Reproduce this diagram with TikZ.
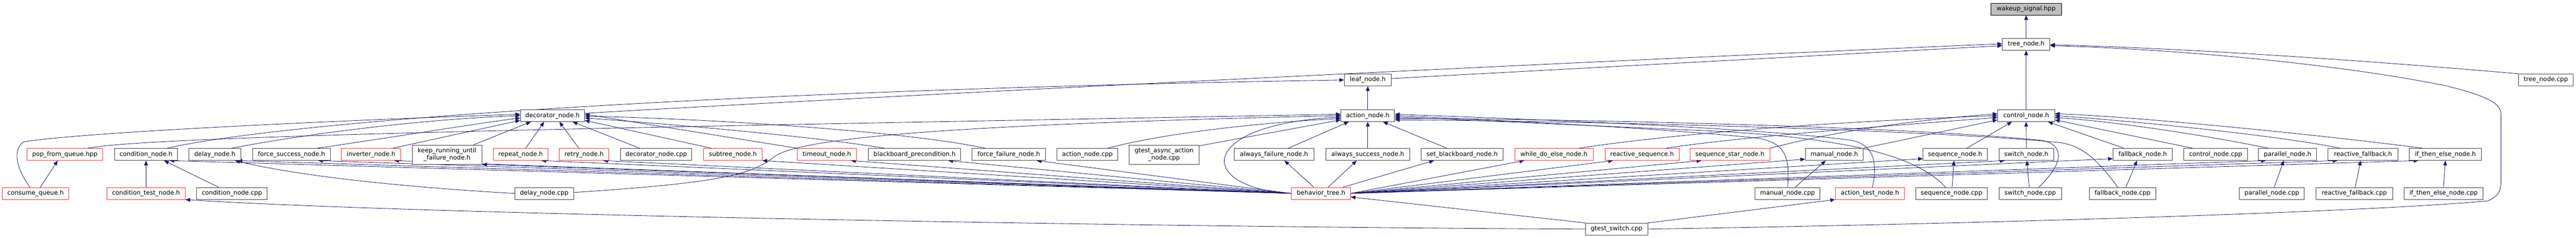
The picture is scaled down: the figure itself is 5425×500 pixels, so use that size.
\documentclass[tikz,border=0pt]{standalone}
\usepackage{fontspec}
\setmainfont{DejaVu Sans}
\usetikzlibrary{arrows.meta,backgrounds}
\definecolor{edgec}{HTML}{191970}
\definecolor{bordc}{HTML}{404040}
\definecolor{redc}{HTML}{FF3030}
\definecolor{rootfill}{HTML}{BFBFBF}
\tikzset{
  box/.style={draw=bordc, line width=1pt, fill=white, minimum height=25pt, inner sep=0pt, align=center, font=\fontsize{13}{14.5}\selectfont},
  redbox/.style={box, draw=redc},
  twoline/.style={minimum height=40pt},
  edge/.style={draw=edgec, line width=0.9pt, -{Triangle[length=10pt,width=8pt]}}
}
\newcommand{\mkbox}[6]{\node[#1, minimum width=#2pt] (#3) at (#4,#5) {#6};}
\begin{document}
\begin{tikzpicture}[x=1pt,y=-1pt]
\useasboundingbox (0,0) rectangle (5425,500);
% row 0-2
\node[box, draw=black, fill=rootfill, minimum width=148pt] (wakeup) at (4267,19) {wakeup\_signal.hpp};
\mkbox{box}{100}{tree}{4267}{93}{tree\_node.h}
\mkbox{box}{99}{leaf}{2880.5}{168}{leaf\_node.h}
\mkbox{box}{115}{treecpp}{5361.5}{168}{tree\_node.cpp}
\mkbox{box}{113}{action}{2880.5}{243}{action\_node.h}
\mkbox{box}{135}{decorator}{1163.5}{243}{decorator\_node.h}
\mkbox{box}{120}{control}{4267}{243}{control\_node.h}
% row 3
\mkbox{redbox}{159}{popq}{136.5}{324.5}{pop\_from\_queue.hpp}
\mkbox{box}{133}{condn}{307.5}{324.5}{condition\_node.h}
\mkbox{box}{109}{delayh}{452.5}{324.5}{delay\_node.h}
\mkbox{box}{164}{fsucc}{614}{324.5}{force\_success\_node.h}
\mkbox{redbox}{125}{inv}{781.5}{324.5}{inverter\_node.h}
\mkbox{box,twoline}{147}{keep}{941.5}{325}{keep\_running\_until\\\_failure\_node.h}
\mkbox{redbox}{115}{repeat}{1096.5}{324.5}{repeat\_node.h}
\mkbox{redbox}{104}{retry}{1230}{324.5}{retry\_node.h}
\mkbox{box}{150}{deccpp}{1382}{324.5}{decorator\_node.cpp}
\mkbox{redbox}{123}{subtree}{1543.5}{324.5}{subtree\_node.h}
\mkbox{redbox}{125}{timeout}{1741.5}{324.5}{timeout\_node.h}
\mkbox{box}{194}{bbprec}{1926}{324.5}{blackboard\_precondition.h}
\mkbox{box}{155}{ffail}{2124.5}{324.5}{force\_failure\_node.h}
\mkbox{box}{128}{actcpp}{2290}{324.5}{action\_node.cpp}
\mkbox{box,twoline}{147}{gasync}{2451.5}{325}{gtest\_async\_action\\\_node.cpp}
\mkbox{box}{168}{afail}{2683}{324.5}{always\_failure\_node.h}
\mkbox{box}{177}{asucc}{2880.5}{324.5}{always\_success\_node.h}
\mkbox{box}{172}{setbb}{3079}{324.5}{set\_blackboard\_node.h}
\mkbox{redbox}{165}{whiledo}{3272.5}{324.5}{while\_do\_else\_node.h}
\mkbox{redbox}{156}{reactseq}{3458}{324.5}{reactive\_sequence.h}
\mkbox{redbox}{168}{seqstar}{3643}{324.5}{sequence\_star\_node.h}
\mkbox{box}{122}{manualh}{3863}{324.5}{manual\_node.h}
\mkbox{box}{135}{seqh}{4117.5}{324.5}{sequence\_node.h}
\mkbox{box}{115}{switchh}{4267.5}{324.5}{switch\_node.h}
\mkbox{box}{125}{fallbackh}{4512.5}{324.5}{fallback\_node.h}
\mkbox{box}{134}{ctrlcpp}{4666}{324.5}{control\_node.cpp}
\mkbox{box}{123}{parh}{4817.5}{324.5}{parallel\_node.h}
\mkbox{box}{147}{reactfb}{4976.5}{324.5}{reactive\_fallback.h}
\mkbox{box}{152}{ifte}{5150}{324.5}{if\_then\_else\_node.h}
% row 4
\mkbox{redbox}{140}{consume}{75}{406.5}{consume\_queue.h}
\mkbox{redbox}{165}{condtest}{307.5}{406.5}{condition\_test\_node.h}
\mkbox{box}{149}{condcpp}{488.5}{406.5}{condition\_node.cpp}
\mkbox{box}{124}{delaycpp}{1146}{406.5}{delay\_node.cpp}
\mkbox{redbox}{124}{bt}{2782}{406.5}{behavior\_tree.h}
\mkbox{box}{137}{manualcpp}{3764.5}{406.5}{manual\_node.cpp}
\mkbox{redbox}{146}{acttest}{3938}{406.5}{action\_test\_node.h}
\mkbox{box}{150}{seqcpp}{4110}{406.5}{sequence\_node.cpp}
\mkbox{box}{131}{switchcpp}{4275.5}{406.5}{switch\_node.cpp}
\mkbox{box}{140}{fallbackcpp}{4470}{406.5}{fallback\_node.cpp}
\mkbox{box}{137}{parcpp}{4784.5}{406.5}{parallel\_node.cpp}
\mkbox{box}{162}{reactfbcpp}{4958}{406.5}{reactive\_fallback.cpp}
\mkbox{box}{166}{iftecpp}{5146}{406.5}{if\_then\_else\_node.cpp}
% row 5
\mkbox{box}{131}{gswitch}{3404.5}{481.5}{gtest\_switch.cpp}

\begin{pgfonlayer}{background}
% top part
\draw[edge] (tree.north) -- (wakeup.south);
\draw[edge] ([yshift=3pt]leaf.east) -- ([yshift=-3pt]tree.west);
\draw[edge] ([yshift=5pt]decorator.east) .. controls (1900,200) and (3200,135) .. ([yshift=1pt]tree.west);
\draw[edge] (control.north) -- (tree.south);
\draw[edge] (treecpp.north west) .. controls (4900,120) and (4550,100) .. ([yshift=-1pt]tree.east);
\draw[edge] (gswitch.east) .. controls (4200,470) and (5000,445) .. (5240,422) .. controls (5262,412) and (5267,400) .. (5267,383) -- (5267,240) .. controls (5267,215) and (5230,200) .. (5150,180) .. controls (4900,130) and (4550,102) .. ([yshift=-3pt]tree.east);
\draw[edge] (action.north) -- (leaf.south);
\draw[edge] ([xshift=44.5pt]condn.north) .. controls (600,255) and (1500,190) .. (leaf.west);
% decorator
\draw[edge] ([xshift=-12pt]consume.north) .. controls (35,355) and (25,315) .. (50,298) .. controls (200,275) and (800,250) .. ([yshift=3pt]decorator.west);
\draw[edge] ([xshift=35.5pt]delayh.north) .. controls (650,280) and (900,250) .. (decorator.west);
\draw[edge] ([xshift=54pt]fsucc.north) .. controls (850,285) and (1000,260) .. ([yshift=-5pt]decorator.west);
\draw[edge] ([xshift=45.5pt]inv.north) -- ([yshift=-10pt]decorator.west);
\draw[edge] ([xshift=55.5pt]keep.north) -- ([xshift=-45.5pt]decorator.south);
\draw[edge] ([xshift=10.5pt]repeat.north) -- ([xshift=-17.5pt]decorator.south);
\draw[edge] ([xshift=-11pt]retry.north) -- ([xshift=14.5pt]decorator.south);
\draw[edge] ([xshift=-35pt]deccpp.north) -- ([xshift=42.5pt]decorator.south);
\draw[edge] ([xshift=-45.5pt]subtree.north) -- ([yshift=-10pt]decorator.east);
\draw[edge] (timeout.north west) -- ([yshift=3pt]decorator.east);
\draw[edge] ([xshift=-63pt]bbprec.north) .. controls (1700,285) and (1400,260) .. ([yshift=-5pt]decorator.east);
\draw[edge] ([xshift=-49.5pt]ffail.north) .. controls (1900,275) and (1500,250) .. ([yshift=-1pt]decorator.east);
% action
\draw[edge] ([xshift=48.5pt]popq.north) .. controls (330,283) and (1500,265) .. ([yshift=3pt]action.west);
\draw[edge] ([yshift=2pt]delaycpp.east) .. controls (1500,385) and (1580,370) .. (1630,330) .. controls (1680,290) and (2000,262) .. (action.west);
\draw[edge] (bt.west) .. controls (2518,395) and (2518,262) .. ([yshift=-3pt]action.west);
\draw[edge] ([xshift=43pt]actcpp.north) .. controls (2450,280) and (2650,258) .. ([yshift=-6pt]action.west);
\draw[edge] ([yshift=-2pt]gasync.north east) -- ([yshift=-9pt]action.west);
\draw[edge] ([xshift=30pt]afail.north) -- ([xshift=-40pt]action.south);
\draw[edge] (asucc.north) -- (action.south);
\draw[edge] ([xshift=-32pt]setbb.north) -- ([xshift=32pt]action.south);
\draw[edge] ([xshift=5pt]acttest.north) .. controls (3955,340) and (3945,305) .. (3900,295) .. controls (3700,268) and (3200,250) .. ([yshift=3pt]action.east);
\draw[edge] (manualcpp.north) .. controls (3770,330) and (3760,300) .. (3700,290) .. controls (3500,270) and (3200,255) .. (action.east);
\draw[edge] ([xshift=-13pt]seqcpp.north) .. controls (4040,330) and (3900,290) .. (3600,275) .. controls (3300,262) and (3050,250) .. ([yshift=-3pt]action.east);
\draw[edge] ([xshift=18pt]switchcpp.north) .. controls (4345,345) and (4350,305) .. (4300,295) .. controls (4000,265) and (3300,250) .. ([yshift=-6pt]action.east);
\draw[edge] ([xshift=-10pt]fallbackcpp.north) .. controls (4420,340) and (4390,308) .. (4340,300) .. controls (4100,275) and (3400,255) .. ([yshift=-9pt]action.east);
% control
\draw[edge] ([xshift=52.5pt]whiledo.north) .. controls (3500,285) and (3800,258) .. (control.west);
\draw[edge] ([xshift=50pt]reactseq.north) .. controls (3650,290) and (3900,270) .. ([yshift=-4pt]control.west);
\draw[edge] (seqstar.north east) .. controls (3850,280) and (4000,255) .. ([yshift=4pt]control.west);
\draw[edge] (manualh.north east) -- ([yshift=-9pt]control.west);
\draw[edge] ([xshift=24.5pt]seqh.north) -- ([xshift=-30pt]control.south);
\draw[edge] (switchh.north) -- (control.south);
\draw[edge] ([xshift=-39.5pt]fallbackh.north) -- ([xshift=46pt]control.south);
\draw[edge] ([xshift=-48pt]ctrlcpp.north) -- ([yshift=-9pt]control.east);
\draw[edge] ([xshift=-40.5pt]parh.north) .. controls (4650,285) and (4450,255) .. ([yshift=-4pt]control.east);
\draw[edge] ([xshift=-48.5pt]reactfb.north) .. controls (4800,285) and (4500,255) .. (control.east);
\draw[edge] ([xshift=-48pt]ifte.north) .. controls (4900,285) and (4500,245) .. ([yshift=4pt]control.east);
% short ones
\draw[edge] ([xshift=10pt]consume.north) -- ([xshift=-15pt]popq.south);
\draw[edge] (condtest.north) -- (condn.south);
\draw[edge] ([xshift=-28pt]condcpp.north) -- ([xshift=38pt]condn.south);
\draw[edge] (delaycpp.west) .. controls (900,396) and (650,375) .. ([xshift=42.5pt]delayh.south);
\draw[edge] ([xshift=16pt]manualcpp.north) -- ([xshift=-18pt]manualh.south);
\draw[edge] ([xshift=1pt]seqcpp.north) -- ([xshift=-2.5pt]seqh.south);
\draw[edge] ([xshift=-2pt]switchcpp.north) -- ([xshift=1pt]switchh.south);
\draw[edge] ([xshift=7pt]fallbackcpp.north) -- ([xshift=-12pt]fallbackh.south);
\draw[edge] ([xshift=5pt]parcpp.north) -- ([xshift=-8pt]parh.south);
\draw[edge] ([xshift=2pt]reactfbcpp.north) -- ([xshift=-5pt]reactfb.south);
\draw[edge] (iftecpp.north) -- (ifte.south);
% gtest_switch
\draw[edge] (gswitch.north west) -- ([yshift=-7.5pt]bt.east);
\draw[edge] (gswitch.north east) -- (acttest.south west);
\draw[edge] (gswitch.west) .. controls (2500,478) and (900,452) .. (condtest.south east);
% behavior_tree fan-out
\draw[edge] (bt.west) -- ([xshift=49.5pt]condn.south);
\draw[edge] (bt.west) -- ([xshift=47.5pt]delayh.south);
\draw[edge] (bt.west) -- ([xshift=56pt]fsucc.south);
\draw[edge] (bt.west) -- ([xshift=48.5pt]inv.south);
\draw[edge] (bt.west) -- (keep.south east);
\draw[edge] (bt.west) -- ([xshift=43.5pt]repeat.south);
\draw[edge] (bt.west) -- ([xshift=40pt]retry.south);
\draw[edge] (bt.west) -- (subtree.south east);
\draw[edge] (bt.west) -- ([xshift=50.5pt]timeout.south);
\draw[edge] (bt.west) -- ([xshift=71pt]bbprec.south);
\draw[edge] (bt.west) -- ([xshift=58.5pt]ffail.south);
\draw[edge] ([xshift=-15pt]bt.north) -- ([xshift=22pt]afail.south);
\draw[edge] ([xshift=15pt]bt.north) -- ([xshift=-23.5pt]asucc.south);
\draw[edge] ([xshift=46pt]bt.north) -- ([xshift=-59pt]setbb.south);
\draw[edge] (bt.east) -- ([xshift=-62.5pt]whiledo.south);
\draw[edge] (bt.east) -- ([xshift=-61pt]reactseq.south);
\draw[edge] (bt.east) -- ([xshift=-60pt]seqstar.south);
\draw[edge] (bt.east) -- ([yshift=3pt]manualh.south west);
\draw[edge] (bt.east) -- ([yshift=4pt]seqh.south west);
\draw[edge] (bt.east) -- ([xshift=-45.5pt]switchh.south);
\draw[edge] (bt.east) -- ([yshift=4pt]fallbackh.south west);
\draw[edge] (bt.east) -- ([xshift=-45.5pt]parh.south);
\draw[edge] (bt.east) -- ([xshift=-53.5pt]reactfb.south);
\draw[edge] (bt.east) -- ([xshift=-57pt]ifte.south);
\end{pgfonlayer}
\end{tikzpicture}
\end{document}
